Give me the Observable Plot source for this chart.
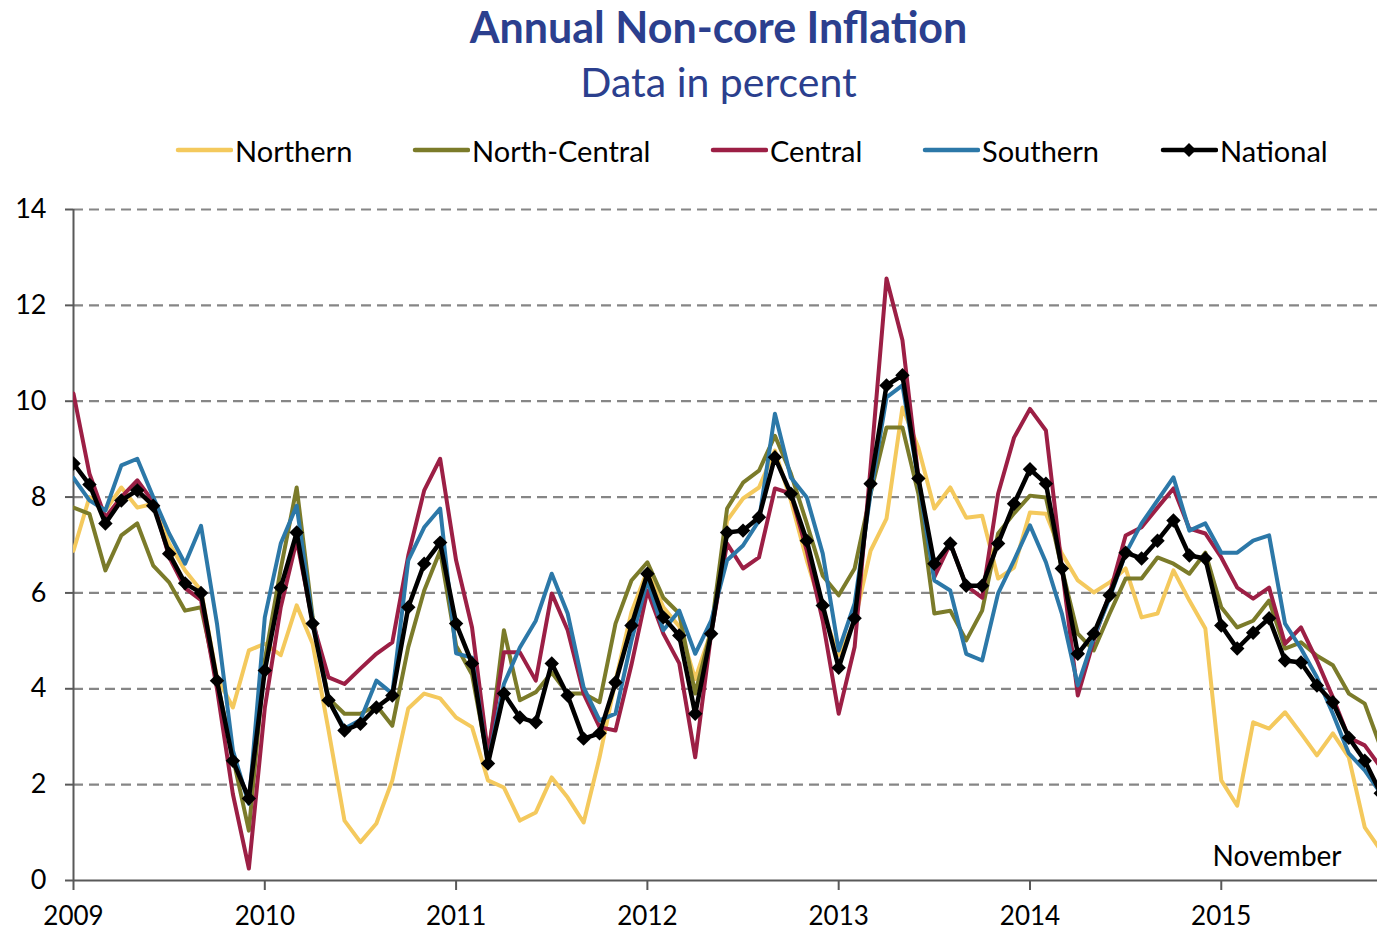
<!DOCTYPE html>
<html>
<head>
<meta charset="utf-8">
<script src="https://cdn.jsdelivr.net/npm/d3@7"></script>
<script src="https://cdn.jsdelivr.net/npm/@observablehq/plot@0.6"></script>
<style>
  html, body { margin: 0; padding: 0; background: #fff; }
  body { width: 1377px; height: 936px; position: relative; overflow: hidden; font-family: Lato, "Open Sans", sans-serif; }
  #title { position: absolute; left: 0; width: 1437px; top: 1px; text-align: center; font-size: 43px; font-weight: bold; color: #2B3F8E; }
  #subtitle { position: absolute; left: 0; width: 1437px; top: 57px; text-align: center; font-size: 41px; color: #2B3F8E; }
  .leg { position: absolute; top: 133px; height: 34px; display: flex; align-items: center; font-size: 29px; color: #000; }
  .leg svg { display: block; margin-right: 2px; }
  #chart { position: absolute; left: 0; top: 180px; }
</style>
</head>
<body>
<div id="title">Annual Non-core Inflation</div>
<div id="subtitle">Data in percent</div>
<div id="legend"></div>
<div id="chart"></div>
<script>
// Series names and colours
const seriesNames = ["Northern", "North-Central", "Central", "Southern", "National"];
const seriesColors = ["#F4C95D", "#7B7B2A", "#9C1F45", "#2C78A8", "#000000"];
const yearLabels = ["2009", "2010", "2011", "2012", "2013", "2014", "2015"];
const yTicks = [0, 2, 4, 6, 8, 10, 12, 14];

// Monthly values, Jan 2009 – Nov 2015 (percent)
const northern = [
  6.88, 8.0, 7.72, 8.2, 7.78, 7.86, 7.03, 6.47, 6.05, 4.24, 3.61, 4.8,
  4.94, 4.7, 5.74, 4.94, 3.13, 1.25, 0.8, 1.19, 2.09, 3.59, 3.9, 3.8,
  3.4, 3.2, 2.09, 1.94, 1.25, 1.42, 2.15, 1.73, 1.21, 2.57, 4.17, 5.6,
  6.47, 5.7, 5.3, 4.2, 5.2, 7.51, 7.97, 8.2, 8.97, 7.93, 6.68, 5.6,
  4.7, 5.4, 6.88, 7.55, 9.87, 9.03, 7.76, 8.2, 7.57, 7.61, 6.3, 6.53,
  7.68, 7.65, 6.82, 6.26, 6.01, 6.22, 6.51, 5.49, 5.57, 6.47, 5.84, 5.26,
  2.09, 1.56, 3.3, 3.17, 3.51, 3.07, 2.61, 3.07, 2.57, 1.11, 0.63
];
const northCentral = [
  7.78, 7.65, 6.47, 7.2, 7.45, 6.57, 6.22, 5.63, 5.7, 4.17, 2.57, 1.04,
  4.6, 6.5, 8.2, 5.5, 3.8, 3.48, 3.48, 3.65, 3.23, 4.87, 6.05, 6.88,
  4.9, 4.3, 2.5, 5.22, 3.76, 3.93, 4.34, 3.9, 3.9, 3.72, 5.36, 6.26,
  6.64, 5.9, 5.57, 3.9, 5.22, 7.76, 8.3, 8.55, 9.28, 8.49, 7.45, 6.36,
  5.95, 6.51, 8.07, 9.45, 9.45, 8.07, 5.57, 5.63, 5.01, 5.63, 7.24, 7.66,
  8.03, 7.99, 6.51, 5.15, 4.8, 5.57, 6.3, 6.3, 6.74, 6.61, 6.4, 6.84,
  5.7, 5.28, 5.42, 5.84, 4.84, 4.97, 4.69, 4.49, 3.9, 3.69, 2.78
];
const central = [
  10.16, 8.49, 7.57, 8.0, 8.35, 7.9, 6.75, 6.1, 5.85, 4.0, 1.8, 0.25,
  3.6, 5.7, 7.1, 5.4, 4.24, 4.1, 4.42, 4.73, 4.97, 6.78, 8.14, 8.8,
  6.68, 5.28, 2.65, 4.76, 4.76, 4.17, 5.99, 5.22, 3.9, 3.2, 3.13, 4.5,
  6.05, 5.15, 4.53, 2.57, 5.15, 7.03, 6.51, 6.74, 8.18, 8.07, 6.88, 5.42,
  3.48, 4.87, 8.62, 12.56, 11.27, 8.41, 6.33, 7.03, 6.15, 5.9, 8.07, 9.24,
  9.84, 9.39, 6.53, 3.86, 5.01, 5.99, 7.2, 7.37, 7.78, 8.18, 7.34, 7.24,
  6.74, 6.11, 5.88, 6.11, 4.94, 5.28, 4.59, 3.82, 2.98, 2.82, 2.36
];
const southern = [
  8.4, 7.93, 7.72, 8.66, 8.8, 8.0, 7.24, 6.61, 7.4, 5.36, 2.71, 1.6,
  5.49, 7.03, 7.82, 5.42, 3.76, 3.17, 3.35, 4.17, 3.9, 6.68, 7.37, 7.76,
  4.74, 4.65, 2.46, 4.1, 4.86, 5.42, 6.4, 5.57, 4.03, 3.34, 3.48, 5.0,
  6.26, 5.22, 5.63, 4.73, 5.42, 6.68, 6.99, 7.51, 9.74, 8.41, 7.99, 6.82,
  4.8, 5.78, 8.07, 10.08, 10.33, 8.35, 6.26, 6.05, 4.73, 4.59, 5.99, 6.68,
  7.41, 6.64, 5.57, 4.07, 5.07, 5.9, 6.82, 7.45, 7.93, 8.41, 7.3, 7.45,
  6.84, 6.84, 7.09, 7.2, 5.36, 4.84, 4.24, 3.48, 2.65, 2.3, 1.82
];
const national = [
  8.7, 8.26, 7.45, 7.93, 8.14, 7.82, 6.82, 6.2, 6.0, 4.17, 2.5, 1.71,
  4.38, 6.11, 7.26, 5.36, 3.76, 3.13, 3.27, 3.61, 3.86, 5.7, 6.61, 7.05,
  5.36, 4.53, 2.44, 3.9, 3.4, 3.3, 4.53, 3.86, 2.96, 3.07, 4.13, 5.32,
  6.4, 5.49, 5.11, 3.48, 5.15, 7.26, 7.3, 7.58, 8.83, 8.07, 7.09, 5.74,
  4.44, 5.47, 8.28, 10.33, 10.54, 8.39, 6.61, 7.03, 6.15, 6.15, 7.03, 7.86,
  8.58, 8.28, 6.51, 4.73, 5.15, 5.95, 6.84, 6.72, 7.09, 7.51, 6.78, 6.72,
  5.32, 4.84, 5.17, 5.47, 4.59, 4.55, 4.07, 3.72, 2.98, 2.5, 1.82
];
const seriesValues = [northern, northCentral, central, southern, national];

// Legend (HTML, above the SVG)
const legendX = [175, 412, 710, 922, 1160];
const legend = document.getElementById("legend");
seriesNames.forEach((name, k) => {
  const div = document.createElement("div");
  div.className = "leg";
  div.style.left = legendX[k] + "px";
  const marker = k === 4 ? `<path d="M29,2 L36,9 L29,16 L22,9 Z" fill="#000"/>` : "";
  div.innerHTML = `<svg width="58" height="18"><line x1="3" y1="9" x2="56" y2="9" stroke="${seriesColors[k]}" stroke-width="4.5" stroke-linecap="round"/>${marker}</svg><span>${name}</span>`;
  legend.appendChild(div);
});

// Table for Plot
const rows = [];
seriesValues.forEach((vals, k) => vals.forEach((v, i) => rows.push({ i, v, series: seriesNames[k] })));
const bySeries = name => rows.filter(d => d.series === name);

const yearTickPos = yearLabels.map((_, k) => k * 12);

const chart = Plot.plot({
  width: 1377,
  height: 756,
  marginTop: 29,
  marginBottom: 56,
  marginLeft: 73,
  marginRight: 0,
  style: { fontFamily: "Lato, 'Open Sans', sans-serif", fontSize: "27px", color: "#000", background: "#fff" },
  x: { domain: [0, 81.8], label: null },
  y: { domain: [0, 14], label: null },
  marks: [
    Plot.ruleY(yTicks.filter(t => t > 0), { stroke: "#868686", strokeWidth: 2.2, strokeDasharray: "10,6" }),
    Plot.axisY({ ticks: yTicks, tickSize: 8, tickPadding: 19, stroke: "#595959", strokeWidth: 2, label: null, tickFormat: d => String(d) }),
    Plot.axisX({ ticks: yearTickPos, tickSize: 10, tickPadding: 16, fontSize: 26, stroke: "#595959", strokeWidth: 2, label: null, tickFormat: (d, k) => yearLabels[k] }),
    Plot.ruleX([0], { stroke: "#595959", strokeWidth: 2 }),
    Plot.ruleY([0], { stroke: "#595959", strokeWidth: 2 }),
    ...seriesNames.slice(0, 4).map((name, k) =>
      Plot.line(bySeries(name), { x: "i", y: "v", stroke: seriesColors[k], strokeWidth: 4, clip: true })
    ),
    Plot.line(bySeries("National"), { x: "i", y: "v", stroke: "#000", strokeWidth: 4.5, clip: true }),
    Plot.dot(bySeries("National"), { x: "i", y: "v", symbol: "diamond2", r: 6.5, fill: "#000", stroke: "none", clip: true }),
    Plot.text(["November"], { x: 75.5, y: 0.48, text: d => d, fontSize: 28, fill: "#000", textAnchor: "middle" })
  ]
});
document.getElementById("chart").appendChild(chart);
</script>
</body>
</html>
